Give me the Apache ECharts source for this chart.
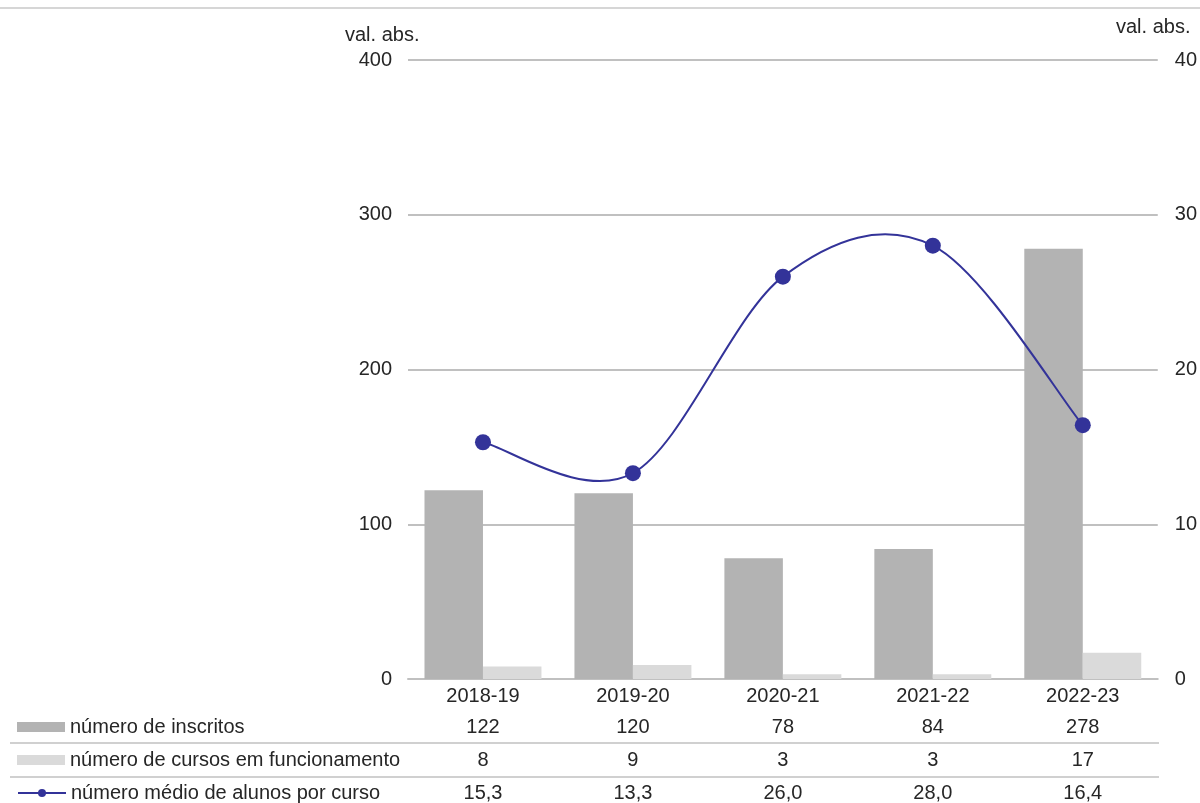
<!DOCTYPE html>
<html>
<head>
<meta charset="utf-8">
<script src="https://cdn.jsdelivr.net/npm/echarts@6/dist/echarts.min.js"></script>
<style>
html,body{margin:0;padding:0;background:#fff;}
#chart{width:1200px;height:803px;}
</style>
</head>
<body>
<div id="chart"></div>
<script>
const categories = ['2018-19', '2019-20', '2020-21', '2021-22', '2022-23'];
const seriesNames = ['número de inscritos', 'número de cursos em funcionamento', 'número médio de alunos por curso'];
const inscritos = [122, 120, 78, 84, 278];
const cursos = [8, 9, 3, 3, 17];
const media = [15.3, 13.3, 26.0, 28.0, 16.4];
const leftTicks = { min: 0, max: 400, interval: 100 };
const rightTicks = { min: 0, max: 40, interval: 10 };
const axisTitle = 'val. abs.';

const FONT = '"Liberation Sans", Arial, sans-serif';
const TXT = '#262626';
const GRID = '#c0c0c0';
const LINE = '#333399';
const FS = 20;

const fmtInt = v => String(v);
const fmtDec = v => v.toFixed(1).replace('.', ',');

const chart = echarts.init(document.getElementById('chart'), null, { renderer: 'canvas' });

function tableAxis(labels, margin) {
  return {
    type: 'category', data: labels, gridIndex: 0, position: 'bottom', offset: 0,
    boundaryGap: true,
    axisLine: { show: false }, axisTick: { show: false }, splitLine: { show: false },
    axisLabel: { margin: margin, fontSize: FS, color: TXT, fontFamily: FONT, verticalAlign: 'middle', interval: 0 }
  };
}

const rowCenters = [727, 760, 793];

function legendRow(name, idx) {
  const l = {
    data: [name], orient: 'horizontal', left: 17, top: rowCenters[idx] - 10,
    padding: 0, itemWidth: 48, itemHeight: 10, itemGap: 0,
    selectedMode: false,
    textStyle: { fontSize: FS, color: TXT, fontFamily: FONT, lineHeight: 20, padding: [0, 0, 0, 0] }
  };
  if (idx === 2) {
    l.lineStyle = { color: LINE, width: 2, opacity: 1 };
  } else {
    l.icon = 'rect';
  }
  return l;
}

// Cardinal (Catmull-Rom, 1/6) spline segment through the data, via the axes' scales
function renderSpline(params, api) {
  const i = params.dataIndex;
  const n = media.length;
  if (i >= n - 1) return null;
  const pt = k => {
    const kk = Math.max(0, Math.min(n - 1, k));
    return api.coord([kk, media[kk]]);
  };
  const p0 = pt(i - 1), p1 = pt(i), p2 = pt(i + 1), p3 = pt(i + 2);
  const t = 1 / 6;
  return {
    type: 'bezierCurve',
    shape: {
      x1: p1[0], y1: p1[1],
      cpx1: p1[0] + (p2[0] - p0[0]) * t, cpy1: p1[1] + (p2[1] - p0[1]) * t,
      cpx2: p2[0] - (p3[0] - p1[0]) * t, cpy2: p2[1] - (p3[1] - p1[1]) * t,
      x2: p2[0], y2: p2[1]
    },
    style: { stroke: LINE, lineWidth: 2, fill: null }
  };
}

const option = {
  backgroundColor: '#fff',
  animation: false,
  textStyle: { fontFamily: FONT },
  grid: { left: 408, right: 42, top: 60, bottom: 124, containLabel: false },
  legend: [legendRow(seriesNames[0], 0), legendRow(seriesNames[1], 1), legendRow(seriesNames[2], 2)],
  xAxis: [
    {
      type: 'category', data: categories, boundaryGap: true,
      axisLine: { show: true, lineStyle: { color: GRID, width: 2 } },
      axisTick: { show: false },
      axisLabel: { margin: 17, fontSize: FS, color: TXT, fontFamily: FONT, verticalAlign: 'middle', interval: 0 }
    },
    tableAxis(inscritos.map(fmtInt), 48),
    tableAxis(cursos.map(fmtInt), 81),
    tableAxis(media.map(fmtDec), 114)
  ],
  yAxis: [
    {
      type: 'value', min: leftTicks.min, max: leftTicks.max, interval: leftTicks.interval,
      axisLine: { show: false }, axisTick: { show: false },
      splitLine: { show: true, lineStyle: { color: GRID, width: 2 } },
      axisLabel: { margin: 16, fontSize: FS, color: TXT, fontFamily: FONT }
    },
    {
      type: 'value', min: rightTicks.min, max: rightTicks.max, interval: rightTicks.interval,
      position: 'right',
      axisLine: { show: false }, axisTick: { show: false },
      splitLine: { show: false },
      axisLabel: { margin: 17, fontSize: FS, color: TXT, fontFamily: FONT }
    }
  ],
  series: [
    {
      name: seriesNames[0], type: 'bar', data: inscritos, xAxisIndex: 0, yAxisIndex: 0,
      barGap: '0%', barCategoryGap: '22%',
      itemStyle: { color: '#b3b3b3' }
    },
    {
      name: seriesNames[1], type: 'bar', data: cursos, xAxisIndex: 0, yAxisIndex: 0,
      barGap: '0%', barCategoryGap: '22%',
      itemStyle: { color: '#dadada' }
    },
    {
      type: 'custom', xAxisIndex: 0, yAxisIndex: 1,
      data: media.map((v, i) => [i, v]),
      renderItem: renderSpline,
      z: 4, silent: true
    },
    {
      name: seriesNames[2], type: 'line', data: media, xAxisIndex: 0, yAxisIndex: 1,
      symbol: 'circle', symbolSize: 16,
      lineStyle: { color: LINE, width: 2, opacity: 0 },
      itemStyle: { color: LINE },
      z: 5
    }
  ],
  graphic: [
    { type: 'line', shape: { x1: 0, y1: 8, x2: 1200, y2: 8 }, style: { stroke: '#c8c8c8', lineWidth: 1.5 }, silent: true },
    { type: 'line', shape: { x1: 10, y1: 743, x2: 1159, y2: 743 }, style: { stroke: GRID, lineWidth: 1.5 }, silent: true },
    { type: 'line', shape: { x1: 10, y1: 777, x2: 1159, y2: 777 }, style: { stroke: GRID, lineWidth: 1.5 }, silent: true },
    { type: 'text', left: 345, top: 25, style: { text: axisTitle, fontSize: FS, fill: TXT, fontFamily: FONT } },
    { type: 'text', left: 1116, top: 17, style: { text: axisTitle, fontSize: FS, fill: TXT, fontFamily: FONT } }
  ]
};

chart.setOption(option);
</script>
</body>
</html>
